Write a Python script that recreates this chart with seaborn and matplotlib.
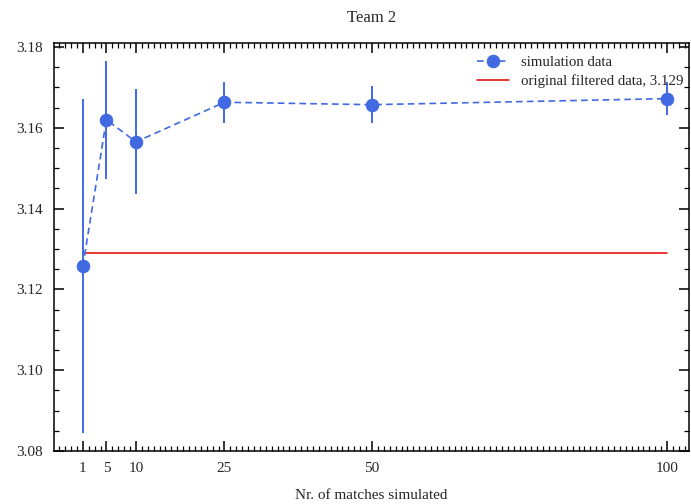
import matplotlib
matplotlib.use("Agg")
import matplotlib.pyplot as plt
from matplotlib.ticker import MultipleLocator, FixedLocator
import seaborn as sns
import pandas as pd

matches = [1, 5, 10, 25, 50, 100]
sim_mean = [3.1257, 3.1620, 3.1565, 3.1663, 3.1657, 3.1672]
sim_err = [0.0413, 0.0146, 0.0130, 0.0051, 0.0046, 0.0040]
original_value = 3.129
xtick_labels = ["1", "5", "10", "25", "50", "100"]

sns.set_style("ticks")
plt.rcParams["font.family"] = ["Liberation Serif", "DejaVu Serif"]
plt.rcParams["mathtext.fontset"] = "stix"

fig = plt.figure(figsize=(6.91, 5.04), dpi=100)
ax = fig.add_axes([0.078, 0.105, 0.919, 0.810])

df = pd.DataFrame({"x": matches, "y": sim_mean})
color = "#4169E1"
ax.errorbar(matches, sim_mean, yerr=sim_err, fmt="none", ecolor=color,
            elinewidth=1.4, capsize=0, zorder=2)
sns.lineplot(data=df, x="x", y="y", ax=ax, color=color, linestyle=(0, (4, 2.5)),
             marker="o", markersize=9, markeredgecolor=color, linewidth=1.2,
             label="simulation data", zorder=3)
sns.lineplot(x=[matches[0], matches[-1]], y=[original_value, original_value],
             ax=ax, color="#e00000", linewidth=1.1,
             label=f"original filtered data, {original_value}", zorder=1)

ax.set_xlim(-3.9, 103.7)
ax.set_ylim(3.08, 3.181)
ax.xaxis.set_major_locator(FixedLocator(matches))
ax.set_xticklabels(xtick_labels)
ax.xaxis.set_minor_locator(MultipleLocator(1))
ax.yaxis.set_major_locator(MultipleLocator(0.02))
ax.yaxis.set_minor_locator(MultipleLocator(0.005))
ax.yaxis.set_major_formatter(matplotlib.ticker.FormatStrFormatter("%.2f"))

ax.tick_params(which="both", direction="in", top=True, right=True,
               labelsize=11, color="black")
ax.tick_params(which="major", length=7, width=1.1, pad=8)
ax.tick_params(which="minor", length=3.5, width=0.9)
for s in ax.spines.values():
    s.set_linewidth(1.1)
    s.set_color("black")

ax.set_xlabel("Nr. of matches simulated", fontsize=11, labelpad=10)
ax.set_ylabel("")
fig.text(0.078 + 0.919 / 2, 1 - 18 / 504, "Team 2", fontsize=12,
         ha="center", va="center")
leg = ax.legend(loc="upper right", bbox_to_anchor=(1.0047, 0.9895),
                frameon=False, fontsize=10.7,
                handlelength=2.2, handletextpad=0.8, borderaxespad=0.25,
                borderpad=0.3, labelspacing=0.4)

fig.savefig("out.png", dpi=100)
